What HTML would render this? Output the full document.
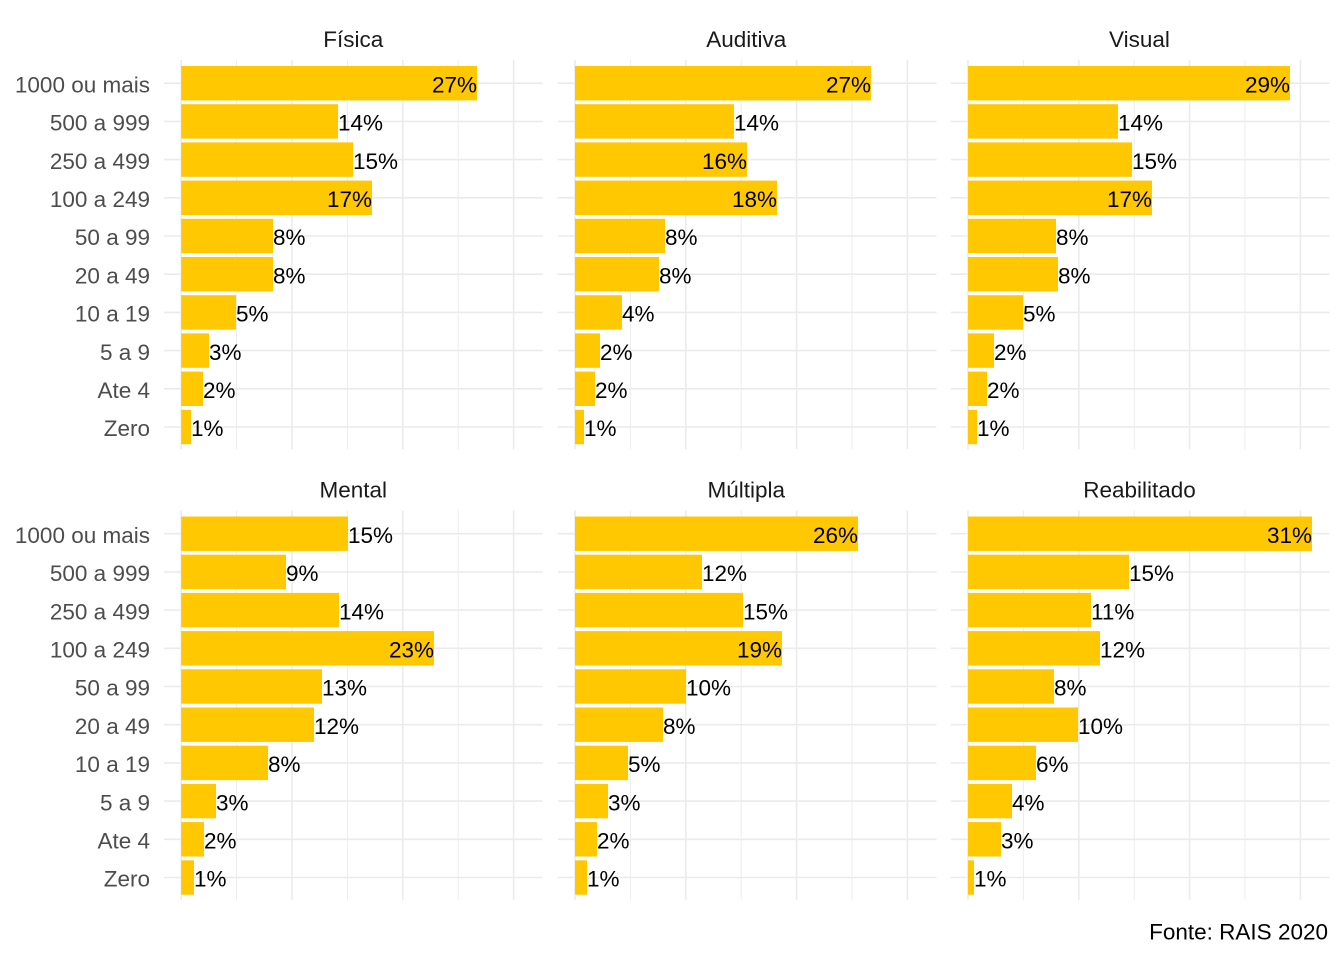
<!DOCTYPE html>
<html>
<head>
<meta charset="utf-8">
<style>
html,body{margin:0;padding:0;background:#fff;}
svg{display:block;}
text{font-family:"Liberation Sans",Arial,sans-serif;font-size:22.5px;}
.ax{fill:#4d4d4d;text-anchor:end;}
.st{fill:#1a1a1a;text-anchor:middle;}
.lb{fill:#000;}
.in{fill:#000;text-anchor:end;}
.bar{fill:#ffc800;}
</style>
</head>
<body>
<svg width="1344" height="960" viewBox="0 0 1344 960" xmlns="http://www.w3.org/2000/svg">
<defs>
<g id="grid" stroke="#ebebeb" fill="none">
  <g stroke-width="1.6">
    <line x1="-17.2" x2="361.5" y1="23.2" y2="23.2"/>
    <line x1="-17.2" x2="361.5" y1="61.4" y2="61.4"/>
    <line x1="-17.2" x2="361.5" y1="99.6" y2="99.6"/>
    <line x1="-17.2" x2="361.5" y1="137.8" y2="137.8"/>
    <line x1="-17.2" x2="361.5" y1="176" y2="176"/>
    <line x1="-17.2" x2="361.5" y1="214.2" y2="214.2"/>
    <line x1="-17.2" x2="361.5" y1="252.4" y2="252.4"/>
    <line x1="-17.2" x2="361.5" y1="290.6" y2="290.6"/>
    <line x1="-17.2" x2="361.5" y1="328.8" y2="328.8"/>
    <line x1="-17.2" x2="361.5" y1="367" y2="367"/>
    <line x1="0" x2="0" y1="0" y2="389.3"/>
    <line x1="110.8" x2="110.8" y1="0" y2="389.3"/>
    <line x1="221.6" x2="221.6" y1="0" y2="389.3"/>
    <line x1="332.4" x2="332.4" y1="0" y2="389.3"/>
  </g>
  <g stroke-width="0.9">
    <line x1="55.4" x2="55.4" y1="0" y2="389.3"/>
    <line x1="166.2" x2="166.2" y1="0" y2="389.3"/>
    <line x1="277" x2="277" y1="0" y2="389.3"/>
  </g>
</g>
</defs>

<!-- Strip titles -->
<text class="st" x="353.3" y="47">Física</text>
<text class="st" x="746.3" y="47">Auditiva</text>
<text class="st" x="1139.5" y="47">Visual</text>
<text class="st" x="353.3" y="497.5">Mental</text>
<text class="st" x="746.3" y="497.5">Múltipla</text>
<text class="st" x="1139.5" y="497.5">Reabilitado</text>

<!-- Y axis labels top -->
<text class="ax" x="150" y="92.4">1000 ou mais</text>
<text class="ax" x="150" y="130.6">500 a 999</text>
<text class="ax" x="150" y="168.8">250 a 499</text>
<text class="ax" x="150" y="207">100 a 249</text>
<text class="ax" x="150" y="245.2">50 a 99</text>
<text class="ax" x="150" y="283.4">20 a 49</text>
<text class="ax" x="150" y="321.6">10 a 19</text>
<text class="ax" x="150" y="359.8">5 a 9</text>
<text class="ax" x="150" y="398">Ate 4</text>
<text class="ax" x="150" y="436.2">Zero</text>
<!-- Y axis labels bottom -->
<text class="ax" x="150" y="542.9">1000 ou mais</text>
<text class="ax" x="150" y="581.1">500 a 999</text>
<text class="ax" x="150" y="619.3">250 a 499</text>
<text class="ax" x="150" y="657.5">100 a 249</text>
<text class="ax" x="150" y="695.7">50 a 99</text>
<text class="ax" x="150" y="733.9">20 a 49</text>
<text class="ax" x="150" y="772.1">10 a 19</text>
<text class="ax" x="150" y="810.3">5 a 9</text>
<text class="ax" x="150" y="848.5">Ate 4</text>
<text class="ax" x="150" y="886.7">Zero</text>

<!-- Física -->
<g transform="translate(181.2,60)">
<use href="#grid"/>
<rect class="bar" x="0" y="6" width="295.8" height="34.4"/>
<rect class="bar" x="0" y="44.2" width="156.8" height="34.4"/>
<rect class="bar" x="0" y="82.4" width="171.8" height="34.4"/>
<rect class="bar" x="0" y="120.6" width="190.8" height="34.4"/>
<rect class="bar" x="0" y="158.8" width="91.8" height="34.4"/>
<rect class="bar" x="0" y="197" width="91.8" height="34.4"/>
<rect class="bar" x="0" y="235.2" width="54.8" height="34.4"/>
<rect class="bar" x="0" y="273.4" width="27.8" height="34.4"/>
<rect class="bar" x="0" y="311.6" width="21.8" height="34.4"/>
<rect class="bar" x="0" y="349.8" width="9.8" height="34.4"/>
<text class="in" x="295.8" y="32.4">27%</text>
<text class="lb" x="156.8" y="70.6">14%</text>
<text class="lb" x="171.8" y="108.8">15%</text>
<text class="in" x="190.8" y="147">17%</text>
<text class="lb" x="91.8" y="185.2">8%</text>
<text class="lb" x="91.8" y="223.4">8%</text>
<text class="lb" x="54.8" y="261.6">5%</text>
<text class="lb" x="27.8" y="299.8">3%</text>
<text class="lb" x="21.8" y="338">2%</text>
<text class="lb" x="9.8" y="376.2">1%</text>
</g>

<!-- Auditiva -->
<g transform="translate(575,60)">
<use href="#grid"/>
<rect class="bar" x="0" y="6" width="296" height="34.4"/>
<rect class="bar" x="0" y="44.2" width="159" height="34.4"/>
<rect class="bar" x="0" y="82.4" width="172" height="34.4"/>
<rect class="bar" x="0" y="120.6" width="202" height="34.4"/>
<rect class="bar" x="0" y="158.8" width="90" height="34.4"/>
<rect class="bar" x="0" y="197" width="84" height="34.4"/>
<rect class="bar" x="0" y="235.2" width="47" height="34.4"/>
<rect class="bar" x="0" y="273.4" width="25" height="34.4"/>
<rect class="bar" x="0" y="311.6" width="20" height="34.4"/>
<rect class="bar" x="0" y="349.8" width="9" height="34.4"/>
<text class="in" x="296" y="32.4">27%</text>
<text class="lb" x="159" y="70.6">14%</text>
<text class="in" x="172" y="108.8">16%</text>
<text class="in" x="202" y="147">18%</text>
<text class="lb" x="90" y="185.2">8%</text>
<text class="lb" x="84" y="223.4">8%</text>
<text class="lb" x="47" y="261.6">4%</text>
<text class="lb" x="25" y="299.8">2%</text>
<text class="lb" x="20" y="338">2%</text>
<text class="lb" x="9" y="376.2">1%</text>
</g>

<!-- Visual -->
<g transform="translate(968,60)">
<use href="#grid"/>
<rect class="bar" x="0" y="6" width="322" height="34.4"/>
<rect class="bar" x="0" y="44.2" width="150" height="34.4"/>
<rect class="bar" x="0" y="82.4" width="164" height="34.4"/>
<rect class="bar" x="0" y="120.6" width="184" height="34.4"/>
<rect class="bar" x="0" y="158.8" width="88" height="34.4"/>
<rect class="bar" x="0" y="197" width="90" height="34.4"/>
<rect class="bar" x="0" y="235.2" width="55" height="34.4"/>
<rect class="bar" x="0" y="273.4" width="26" height="34.4"/>
<rect class="bar" x="0" y="311.6" width="19" height="34.4"/>
<rect class="bar" x="0" y="349.8" width="9" height="34.4"/>
<text class="in" x="322" y="32.4">29%</text>
<text class="lb" x="150" y="70.6">14%</text>
<text class="lb" x="164" y="108.8">15%</text>
<text class="in" x="184" y="147">17%</text>
<text class="lb" x="88" y="185.2">8%</text>
<text class="lb" x="90" y="223.4">8%</text>
<text class="lb" x="55" y="261.6">5%</text>
<text class="lb" x="26" y="299.8">2%</text>
<text class="lb" x="19" y="338">2%</text>
<text class="lb" x="9" y="376.2">1%</text>
</g>

<!-- Mental -->
<g transform="translate(181.2,510.5)">
<use href="#grid"/>
<rect class="bar" x="0" y="6" width="166.8" height="34.4"/>
<rect class="bar" x="0" y="44.2" width="104.8" height="34.4"/>
<rect class="bar" x="0" y="82.4" width="157.8" height="34.4"/>
<rect class="bar" x="0" y="120.6" width="252.8" height="34.4"/>
<rect class="bar" x="0" y="158.8" width="140.8" height="34.4"/>
<rect class="bar" x="0" y="197" width="132.8" height="34.4"/>
<rect class="bar" x="0" y="235.2" width="86.8" height="34.4"/>
<rect class="bar" x="0" y="273.4" width="34.8" height="34.4"/>
<rect class="bar" x="0" y="311.6" width="22.8" height="34.4"/>
<rect class="bar" x="0" y="349.8" width="12.8" height="34.4"/>
<text class="lb" x="166.8" y="32.4">15%</text>
<text class="lb" x="104.8" y="70.6">9%</text>
<text class="lb" x="157.8" y="108.8">14%</text>
<text class="in" x="252.8" y="147">23%</text>
<text class="lb" x="140.8" y="185.2">13%</text>
<text class="lb" x="132.8" y="223.4">12%</text>
<text class="lb" x="86.8" y="261.6">8%</text>
<text class="lb" x="34.8" y="299.8">3%</text>
<text class="lb" x="22.8" y="338">2%</text>
<text class="lb" x="12.8" y="376.2">1%</text>
</g>

<!-- Múltipla -->
<g transform="translate(575,510.5)">
<use href="#grid"/>
<rect class="bar" x="0" y="6" width="283" height="34.4"/>
<rect class="bar" x="0" y="44.2" width="127" height="34.4"/>
<rect class="bar" x="0" y="82.4" width="168" height="34.4"/>
<rect class="bar" x="0" y="120.6" width="207" height="34.4"/>
<rect class="bar" x="0" y="158.8" width="111" height="34.4"/>
<rect class="bar" x="0" y="197" width="88" height="34.4"/>
<rect class="bar" x="0" y="235.2" width="53" height="34.4"/>
<rect class="bar" x="0" y="273.4" width="33" height="34.4"/>
<rect class="bar" x="0" y="311.6" width="22" height="34.4"/>
<rect class="bar" x="0" y="349.8" width="12" height="34.4"/>
<text class="in" x="283" y="32.4">26%</text>
<text class="lb" x="127" y="70.6">12%</text>
<text class="lb" x="168" y="108.8">15%</text>
<text class="in" x="207" y="147">19%</text>
<text class="lb" x="111" y="185.2">10%</text>
<text class="lb" x="88" y="223.4">8%</text>
<text class="lb" x="53" y="261.6">5%</text>
<text class="lb" x="33" y="299.8">3%</text>
<text class="lb" x="22" y="338">2%</text>
<text class="lb" x="12" y="376.2">1%</text>
</g>

<!-- Reabilitado -->
<g transform="translate(968,510.5)">
<use href="#grid"/>
<rect class="bar" x="0" y="6" width="344" height="34.4"/>
<rect class="bar" x="0" y="44.2" width="161" height="34.4"/>
<rect class="bar" x="0" y="82.4" width="123" height="34.4"/>
<rect class="bar" x="0" y="120.6" width="132" height="34.4"/>
<rect class="bar" x="0" y="158.8" width="86" height="34.4"/>
<rect class="bar" x="0" y="197" width="110" height="34.4"/>
<rect class="bar" x="0" y="235.2" width="68" height="34.4"/>
<rect class="bar" x="0" y="273.4" width="44" height="34.4"/>
<rect class="bar" x="0" y="311.6" width="33" height="34.4"/>
<rect class="bar" x="0" y="349.8" width="6" height="34.4"/>
<text class="in" x="344" y="32.4">31%</text>
<text class="lb" x="161" y="70.6">15%</text>
<text class="lb" x="123" y="108.8">11%</text>
<text class="lb" x="132" y="147">12%</text>
<text class="lb" x="86" y="185.2">8%</text>
<text class="lb" x="110" y="223.4">10%</text>
<text class="lb" x="68" y="261.6">6%</text>
<text class="lb" x="44" y="299.8">4%</text>
<text class="lb" x="33" y="338">3%</text>
<text class="lb" x="6" y="376.2">1%</text>
</g>

<!-- Caption -->
<text x="1328" y="939.5" style="fill:#000;text-anchor:end;">Fonte: RAIS 2020</text>
</svg>
</body>
</html>
